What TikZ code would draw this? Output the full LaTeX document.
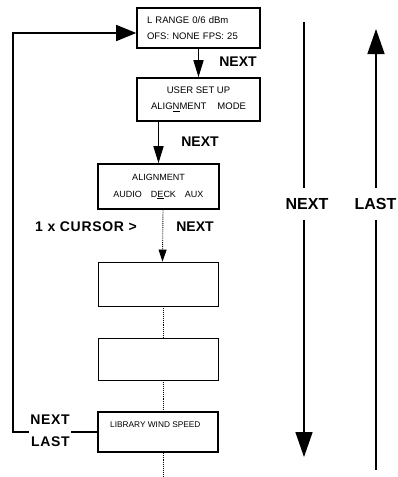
\documentclass[tikz,border=0pt]{standalone}
\usepackage{fontspec}
\setmainfont{Liberation Sans}
\newfontfamily\keyfont{Liberation Sans}[LetterSpace=5.0]
\usetikzlibrary{arrows.meta}
\tikzset{
    panel/.style={draw, line width=1.6pt, minimum width=123pt, inner sep=0pt, font=\fontsize{9.5}{16.5}\selectfont},
    screen/.style={draw, line width=1.6pt, minimum width=121pt, inner sep=0pt},
    blank/.style={draw, line width=0.9pt, minimum width=120pt, inner sep=0pt},
    flow/.style={line width=1.6pt, -{Triangle[length=17pt, width=10pt]}},
    backflow/.style={line width=1.6pt, -{Triangle[length=20pt, width=16pt]}},
    bigflow/.style={line width=1.6pt, -{Triangle[length=25pt, width=17pt]}},
    skip/.style={densely dotted, line width=0.9pt},
    skipflow/.style={densely dotted, line width=0.9pt, -{Triangle[length=12pt, width=8pt]}},
    scroll/.style={line width=1.6pt},
    keyname/.style={font=\bfseries\fontsize{14}{16}\selectfont},
    bigkey/.style={font=\bfseries\fontsize{16}{18}\selectfont, inner xsep=0pt, inner ysep=10pt},
    }

\begin{document}
\begin{tikzpicture}[x=1pt, y=-1pt]
    \useasboundingbox (0,0) rectangle (398,477);

    % menu screens
    \node[panel, minimum height=40pt, text width=103pt, inner xsep=10pt, align=left] (range) at (198.5,28)
        {L RANGE 0/6 dBm\\OFS: NONE FPS: 25};
    \node[panel, minimum height=43pt, align=center] (setup) at (198.5,99.5)
        {USER SET UP\\[-0.5pt]ALIG\underline{N}MENT\hspace{11pt}MODE};
    \node[screen, minimum height=45pt, align=center, font=\fontsize{9}{17}\selectfont] (align) at (158.5,186.5)
        {ALIGNMENT\\AUDIO\hspace{9pt}D\underline{E}CK\hspace{9pt}AUX};
    \node[blank, minimum height=44pt] (empty1) at (158,284) {};
    \node[blank, minimum height=42pt] (empty2) at (158,359) {};
    \node[screen, minimum width=120pt, minimum height=40pt] (library) at (158,432) {};
    \node[anchor=west, inner sep=0pt, font=\fontsize{8.3}{10}\selectfont] (libtext) at (110,425) {LIBRARY WIND SPEED};

    % keys
    \node[keyname] (next1) at (238,62) {NEXT};
    \node[keyname] (next2) at (200,142) {NEXT};
    \node[keyname, font=\keyfont\bfseries\fontsize{14}{16}\selectfont] (cursor) at (86,227) {1 x CURSOR >};
    \node[keyname] (next3) at (195,227) {NEXT};
    \node[keyname, font=\keyfont\bfseries\fontsize{14}{22}\selectfont, align=right, inner sep=1.5pt] (back) at (50,431) {NEXT\\LAST};

    % connections
    \draw[flow] (range.south) -- (setup.north);
    \draw[flow] (setup.south -| align.north) -- (align.north);
    \draw[skipflow] ([xshift=4.5pt]align.south) -- ([xshift=4.5pt]empty1.north);
    \draw[skip] ([xshift=5pt]empty1.south) -- ([xshift=5pt]empty2.north);
    \draw[skip] ([xshift=5pt]empty2.south) -- ([xshift=5pt]library.north);
    \coordinate (tail) at (163,477);
    \draw[skip] ([xshift=5pt]library.south) -- (tail);
    \draw[scroll] (library.west) -- (library.west -| back.east);
    \coordinate (corner) at (13,432);
    \draw[backflow] (library.west -| back.west) -- (corner) |- ([yshift=-5pt]range.west);

    % scroll direction
    \node[bigkey] (nextR) at (307,204) {NEXT};
    \node[bigkey] (lastR) at (375.5,204) {LAST};
    \coordinate (ntop) at (304,22);
    \coordinate (nend) at (304,457);
    \coordinate (ltop) at (376,29);
    \coordinate (lend) at (376,470);
    \draw[scroll] (ntop) -- (ntop |- nextR.north);
    \draw[bigflow] (ntop |- nextR.south) -- (nend);
    \draw[bigflow] (ltop |- lastR.north) -- (ltop);
    \draw[scroll] (ltop |- lastR.south) -- (lend);
\end{tikzpicture}
\end{document}
